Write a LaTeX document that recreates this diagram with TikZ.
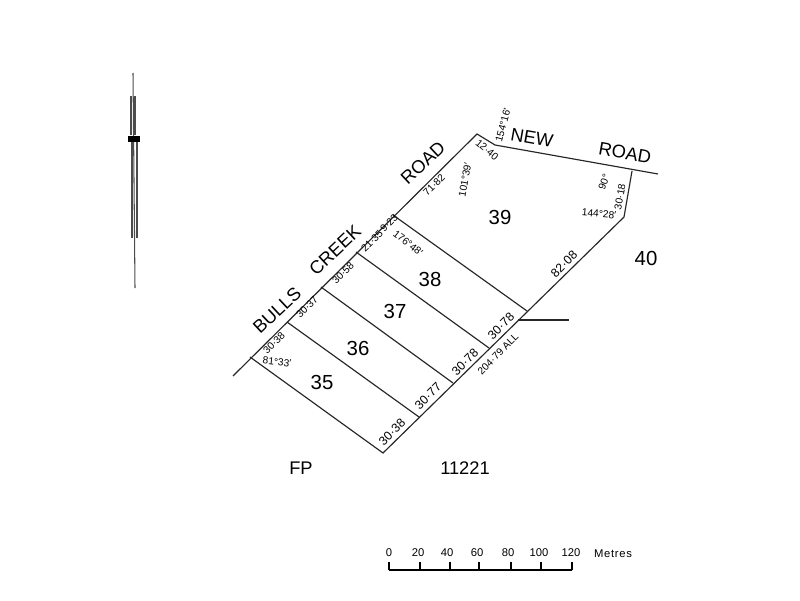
\documentclass[tikz,border=0pt]{standalone}
\usepackage{fontspec}
\setmainfont{Liberation Sans}
\tikzset{
  boundary/.style={line width=.33pt,black!85},
  roadname/.style={inner sep=0,font=\fontsize{5.2}{6}\selectfont},
  lotnum/.style={inner sep=0,font=\fontsize{5.8}{6}\selectfont},
  dimen/.style={inner sep=0,font=\fontsize{2.9}{3}\selectfont},
  dimenbig/.style={inner sep=0,font=\fontsize{3.5}{4}\selectfont},
  scalelab/.style={inner sep=0,font=\fontsize{3.2}{3}\selectfont}
}
\begin{document}
\begin{tikzpicture}
  \useasboundingbox (0,0) rectangle (8,6);

  % survey corners
  \coordinate (west) at (2.33,2.24);
  \coordinate (c35) at (2.50,2.43);
  \coordinate (c36) at (2.87,2.78);
  \coordinate (c37) at (3.21,3.13);
  \coordinate (c38) at (3.56,3.48);
  \coordinate (c39) at (3.93,3.85);
  \coordinate (top) at (4.77,4.66);
  \coordinate (kink) at (4.95,4.55);
  \coordinate (newend) at (6.58,4.26);
  \coordinate (necorner) at (6.32,4.29);
  \coordinate (bend) at (6.24,3.83);
  \coordinate (s38) at (5.27,2.89);
  \coordinate (s37) at (4.89,2.52);
  \coordinate (s36) at (4.53,2.17);
  \coordinate (s35) at (4.19,1.83);
  \coordinate (south) at (3.83,1.47);
  \coordinate (stubA) at (5.18,2.80);
  \coordinate (stubB) at (5.69,2.80);

  \draw[boundary] (west) -- (top) -- (kink) -- (newend);
  \draw[boundary] (necorner) -- (bend) -- (south) -- (c35);
  \foreach \from/\to in {c36/s35,c37/s36,c38/s37,c39/s38,stubA/stubB}
    \draw[boundary] (\from) -- (\to);

  % road names
  \foreach \name/\x/\y/\rot/\txt in {
    bulls/2.77/2.90/43/BULLS, creek/3.35/3.50/43/CREEK, roadA/4.23/4.37/43/ROAD,
    new/5.32/4.62/-10/NEW, roadB/6.25/4.47/-10/ROAD}
    \node[roadname,rotate=\rot] (\name) at (\x,\y) {\txt};

  % lot numbers
  \foreach \name/\x/\y in {35/3.22/2.18,36/3.58/2.52,37/3.95/2.89,38/4.30/3.21,39/5.00/3.83,40/6.46/3.42}
    \node[lotnum] (lot\name) at (\x,\y) {\name};

  % lengths and bearings
  \foreach \name/\x/\y/\rot/\txt in {
    da/2.74/2.57/45/30·38, db/3.07/2.93/45/30·37, dc/3.43/3.27/45/30·58,
    dd/3.72/3.59/45/21·35, de/3.89/3.77/45/9·23, df/4.08/3.57/-38/176°48′,
    dg/2.77/2.38/-6/81°33′, dh/4.34/4.15/45/71·82, di/5.03/4.75/75/154°16′,
    dj/4.87/4.50/-40/12·40, dk/4.65/4.20/80/101°39′, dl/6.04/4.18/70/90°,
    dm/6.20/4.03/80/30·18, dn/5.99/3.86/-5/144°28′, du/4.98/2.46/45/204·79 ALL}
    \node[dimen,rotate=\rot] (\name) at (\x,\y) {\txt};
  \foreach \name/\x/\y/\txt in {
    dp/5.64/3.36/82·08, dq/3.92/1.68/30·38, dr/4.28/2.04/30·77,
    ds/4.65/2.38/30·78, dt/5.01/2.74/30·78}
    \node[dimenbig,rotate=45] (\name) at (\x,\y) {\txt};

  % plan number
  \node[roadname] (fp) at (3.01,1.32) {FP};
  \node[roadname] (plan) at (4.65,1.32) {11221};

  % north point
  \coordinate (nA) at (1.33,5.27);
  \coordinate (nB) at (1.35,3.12);
  \draw[line width=.3pt,black!70] (nA) -- (nB);
  \draw[line width=.3pt,black!70] (1.31,5.04) -- (1.31,4.65) (1.35,5.04) -- (1.35,4.65);
  \draw[line width=.3pt,black!70] (1.32,4.60) -- (1.32,3.62) (1.37,4.60) -- (1.37,3.62);
  \fill (1.28,4.58) rectangle (1.40,4.64);

  % scale bar
  \draw[line width=.45pt] (3.89,.30) -- (5.72,.30);
  \foreach \val/\tx/\lx in {0/3.89/3.89,20/4.20/4.18,40/4.50/4.47,60/4.79/4.77,80/5.11/5.08,100/5.41/5.39,120/5.72/5.71} {
    \draw[line width=.4pt] (\tx,.30) -- (\tx,.38);
    \node[scalelab] (s\val) at (\lx,.47) {\val};
  }
  \node[scalelab] (metres) at (6.13,.46) {\addfontfeature{LetterSpace=6}Metres};
\end{tikzpicture}
\end{document}
